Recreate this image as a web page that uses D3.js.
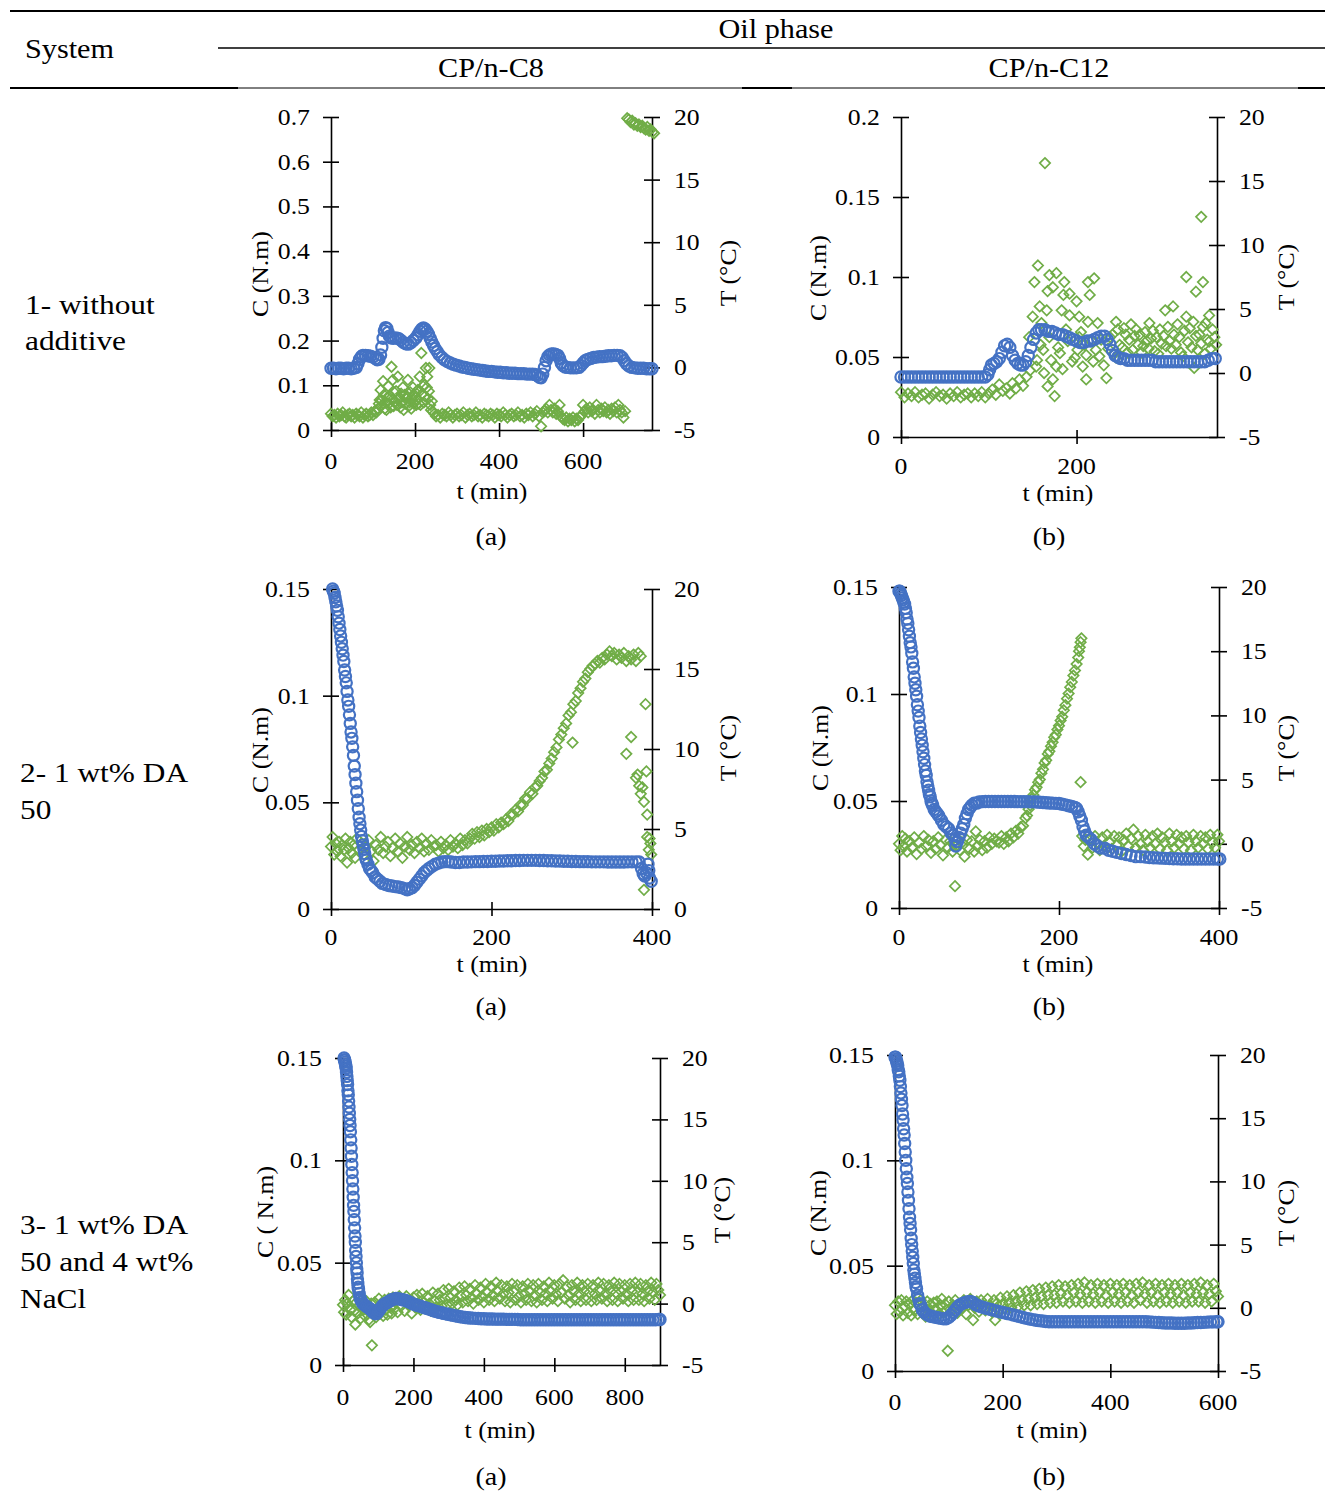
<!DOCTYPE html>
<html><head><meta charset="utf-8">
<script src="https://cdn.jsdelivr.net/npm/d3@7"></script>
<style>
body{margin:0;background:#fff}
svg{display:block}
text{font-family:"Liberation Serif","Times New Roman",serif;fill:#000}
</style>
</head><body>
<svg id="chart" width="1325" height="1493"></svg>
<script>
// ---------------- DATA ----------------
// Row 1 (a): CP/n-C8 without additive — torque C (N.m) and temperature T (°C) vs t (min)
const c1a = [[0,.138],[6,.138],[12,.137],[18,.138],[24,.138],[30,.137],[36,.138],[42,.138],[48,.137],[54,.138],[60,.140],[64,.148],[68,.158],[72,.164],[76,.167],[82,.167],[88,.166],[94,.165],[100,.163],[106,.160],[110,.157],[114,.158],[118,.168],[121,.185],[124,.205],[127,.222],[130,.229],[133,.227],[136,.218],[139,.210],[143,.206],[148,.205],[154,.206],[160,.205],[166,.201],[172,.196],[178,.193],[184,.192],[190,.195],[196,.200],[202,.206],[207,.213],[212,.221],[216,.226],[220,.228],[224,.226],[228,.221],[232,.214],[236,.205],[240,.197],[244,.189],[248,.182],[253,.175],[258,.168],[264,.162],[270,.157],[277,.153],[284,.150],[291,.147],[298,.145],[305,.143],[312,.141],[319,.140],[326,.138],[333,.137],[340,.136],[347,.135],[354,.134],[361,.133],[368,.132],[375,.131],[382,.131],[389,.130],[396,.129],[403,.129],[410,.128],[417,.128],[424,.127],[431,.127],[438,.127],[445,.126],[452,.126],[459,.126],[466,.125],[473,.125],[480,.125],[486,.124],[491,.122],[496,.118],[500,.117],[504,.125],[508,.140],[512,.155],[516,.164],[520,.168],[525,.170],[530,.170],[535,.169],[540,.167],[544,.160],[548,.150],[552,.144],[557,.141],[563,.140],[570,.139],[577,.139],[584,.139],[590,.140],[595,.144],[600,.150],[605,.155],[611,.158],[618,.160],[625,.162],[632,.163],[639,.164],[646,.164],[653,.165],[660,.166],[667,.166],[674,.167],[681,.167],[688,.166],[693,.162],[698,.155],[703,.148],[709,.143],[716,.140],[723,.139],[730,.138],[737,.138],[744,.138],[751,.137],[758,.137],[764,.137]];
const g1a = [[0,-3.7],[4,-3.9],[8,-3.8],[12,-4.0],[16,-3.7],[20,-3.9],[24,-3.8],[28,-3.6],[32,-3.9],[36,-4.0],[40,-3.8],[44,-3.7],[48,-3.9],[52,-3.8],[56,-4.0],[60,-3.7],[64,-3.8],[68,-3.9],[72,-3.6],[76,-4.0],[80,-3.8],[84,-3.7],[88,-3.9],[92,-3.8],[96,-3.6],[100,-3.8],[104,-3.5],[108,-3.6],[112,-3.3],
[114,-2.9],[116,-2.6],[118,-1.8],[120,-2.6],[122,-3.0],[124,-1.1],[126,-2.2],[128,-3.3],[130,-2.8],[132,-3.4],[134,-2.4],[136,-1.5],[138,-2.9],[140,-2.3],[142,-3.2],[144,0.05],[146,-2.6],[147,-1.0],[149,-3.1],[151,-2.0],[153,-2.7],[155,-1.9],[157,-3.0],[159,-0.74],[161,-2.5],[163,-2.4],[165,-3.2],[167,-2.1],[169,-2.8],[171,-1.6],[173,-3.4],[175,-2.2],[177,-2.9],[179,-2.5],[181,-2.3],[183,-1.0],[185,-3.1],[187,-2.8],[189,-2.0],[191,-3.3],[193,-2.4],[195,-1.6],[197,-2.9],[199,-2.2],[201,-2.0],[203,-3.0],[205,-2.6],[207,-1.8],[209,-2.9],[211,-0.74],[213,-3.0],[215,1.15],[217,-2.1],[219,-1.5],[221,-2.8],[222,-1.4],[224,-2.3],[226,-0.05],[228,-1.6],[229,-0.74],[231,-2.5],[233,-1.9],[234,-0.05],[236,-3.0],[238,-3.4],[240,-2.7],[242,-3.5],
[246,-3.7],[250,-3.9],[255,-3.8],[260,-4.0],[265,-3.7],[270,-3.8],[275,-3.9],[280,-3.6],[285,-3.8],[290,-4.0],[295,-3.8],[300,-3.7],[305,-3.9],[310,-3.8],[315,-3.6],[320,-4.0],[325,-3.8],[330,-3.7],[335,-3.9],[340,-3.8],[345,-3.6],[350,-3.9],[355,-3.8],[360,-4.0],[365,-3.7],[370,-3.8],[375,-3.9],[380,-3.7],[385,-3.8],[390,-4.0],[395,-3.7],[400,-3.8],[405,-3.9],[410,-3.6],[415,-3.8],[420,-4.0],[425,-3.8],[430,-3.7],[435,-3.9],[440,-3.8],[445,-3.6],[450,-3.9],[455,-3.8],[460,-4.0],[465,-3.7],[470,-3.8],[475,-3.6],[480,-3.9],[485,-3.7],[490,-3.5],[495,-3.9],[500,-4.7],[504,-3.6],[508,-3.5],[512,-3.3],[516,-3.6],[520,-3.0],[524,-3.4],[528,-3.6],[532,-3.3],[536,-3.7],[540,-3.5],[544,-3.0],[548,-3.9],[552,-4.1],[556,-4.2],[560,-4.0],[564,-4.3],[568,-4.1],[572,-4.2],[576,-4.0],[580,-4.3],[584,-4.1],[588,-4.2],[592,-4.0],[596,-3.8],[600,-3.0],[604,-3.5],[608,-3.3],[612,-3.6],[616,-3.2],[620,-3.5],[624,-3.4],[628,-3.7],[632,-3.0],[636,-3.4],[640,-3.6],[644,-3.3],[648,-3.5],[652,-3.2],[656,-3.6],[660,-3.4],[664,-3.7],[668,-3.3],[672,-3.5],[676,-3.2],[680,-3.6],[684,-3.0],[688,-3.4],[692,-3.6],[696,-4.0],[700,-3.5],
[705,19.9],[709,19.8],[713,19.6],[717,19.7],[721,19.4],[725,19.5],[729,19.3],[733,19.4],[737,19.2],[741,19.3],[745,19.1],[749,19.0],[753,19.2],[757,18.9],[761,19.0],[765,18.8],[769,18.7]];

// Row 1 (b): CP/n-C12 without additive
const c1b = [[0,.0375],[4,.0375],[8,.0375],[12,.0375],[16,.0375],[20,.0375],[24,.0375],[28,.0375],[32,.0375],[36,.0375],[40,.0375],[44,.0375],[48,.0375],[52,.0375],[56,.0375],[60,.0375],[64,.0375],[68,.0375],[72,.0375],[76,.0375],[80,.0375],[84,.0375],[88,.0375],[92,.0375],[96,.0375],[99,.039],[101,.042],[103,.045],[106,.046],[109,.047],[112,.049],[115,.053],[118,.057],[121,.058],[124,.056],[127,.051],[130,.048],[133,.046],[136,.045],[139,.045],[142,.047],[145,.051],[148,.056],[151,.061],[154,.065],[157,.067],[160,.067],[164,.067],[168,.066],[172,.066],[176,.065],[180,.064],[184,.064],[188,.063],[192,.062],[196,.061],[200,.060],[204,.059],[208,.059],[212,.060],[216,.060],[220,.061],[224,.062],[228,.063],[232,.063],[235,.061],[238,.058],[241,.054],[244,.051],[247,.050],[250,.049],[254,.049],[258,.048],[262,.048],[266,.048],[270,.048],[274,.048],[278,.048],[282,.048],[286,.048],[290,.047],[294,.047],[298,.047],[302,.047],[306,.047],[310,.047],[314,.047],[318,.047],[322,.047],[326,.047],[330,.047],[334,.047],[338,.047],[342,.047],[346,.047],[350,.048],[354,.049],[358,.049]];
const g1b = [[0,-1.5],[4,-1.9],[8,-1.6],[12,-1.8],[16,-1.5],[20,-1.9],[24,-1.7],[28,-1.6],[32,-2.0],[36,-1.7],[40,-1.5],[44,-1.8],[48,-1.7],[52,-2.0],[56,-1.6],[60,-1.8],[64,-1.5],[68,-1.9],[72,-1.7],[76,-1.6],[80,-1.9],[84,-1.6],[88,-1.8],[92,-1.5],[96,-1.9],[100,-1.6],[104,-1.3],[108,-1.7],[112,-0.9],[116,-1.4],[120,-1.2],[124,-1.6],[127,-0.8],[131,-1.2],[135,-0.5],[139,-1.0],[143,-0.3],[146,2.8],[147,0.2],
[150,4.4],[152,7.1],[154,0.5],[156,8.4],[158,5.2],[160,3.9],[162,1.8],[164,16.4],[166,4.9],[167,6.4],[167,-1.05],[169,7.65],[169,2.8],[173,6.7],[173,-0.5],[175,-1.8],[177,7.8],[177,0.5],[181,1.55],[183,4.9],[185,6.1],[186,7.1],[188,3.4],[192,6.2],[192,4.5],[198,1.2],[200,5.6],[203,4.4],[203,2.8],[207,0.5],[211,1.4],[211,-0.5],[213,7.1],[213,4.0],[215,6.1],[220,7.4],[224,3.9],[226,1.3],[234,-0.4],[238,2.8],[245,4.0],[245,1.2],[247,3.4],
[155,1.0],[159,2.2],[163,0.0],[171,1.0],[179,2.0],[184,0.3],[190,2.5],[195,0.9],[201,1.8],[205,3.2],[209,2.2],[217,2.5],[219,0.9],[222,1.8],[228,2.6],[231,0.6],[236,1.9],[241,3.0],[243,1.5],[249,2.2],
[252,2.0],[254,3.5],[256,3.0],[258,1.6],[260,2.6],[262,3.8],[264,1.8],[266,2.9],[268,3.4],[270,2.2],[272,3.0],[274,1.6],[276,2.1],[278,3.2],[280,2.5],[282,1.9],[283,3.9],[285,2.7],[287,3.3],[289,1.7],[291,2.8],[293,1.5],[295,3.4],[297,2.3],[299,2.9],[301,4.9],[302,2.1],[304,3.6],[306,2.5],[308,1.9],[310,5.2],[311,3.0],[313,2.2],[315,3.8],[317,2.8],[319,1.6],[321,1.3],[323,3.3],[325,4.4],[325,7.5],[327,2.4],[329,3.5],[331,2.0],[333,4.0],[334,0.4],[336,6.35],[336,2.9],[338,1.8],[340,3.0],[342,12.2],[342,2.3],[344,7.1],[344,3.6],[346,1.5],[347,3.9],[349,2.6],[351,4.5],[351,2.45],[353,1.9],[355,3.4],[357,2.8],[359,2.2]];

// Row 2 (a): CP/n-C8 with 1 wt% DA 50
const c2a = [[2,.150],[3,.149],[4,.148],[5,.146],[6,.144],[7,.142],[8,.140],[9,.137],[10,.134],[11,.131],[12,.128],[13,.125],[14,.122],[15,.119],[16,.116],[17,.112],[18,.109],[19,.106],[20,.102],[21,.098],[22,.095],[23,.091],[24,.087],[25,.083],[26,.080],[27,.076],[28,.072],[29,.067],[30,.063],[31,.059],[32,.055],[33,.051],[34,.047],[35,.043],[36,.040],[37,.037],[38,.034],[39,.032],[40,.030],[41,.028],[42,.026],[43,.024],[44,.023],[46,.021],[48,.019],[50,.018],[52,.017],[55,.015],[58,.014],[61,.013],[64,.012],[68,.0115],[72,.011],[76,.0108],[80,.0105],[84,.0103],[88,.010],[92,.0095],[95,.009],[98,.0095],[101,.010],[104,.011],[107,.0125],[110,.014],[113,.0155],[116,.017],[119,.018],[122,.019],[126,.020],[130,.021],[134,.0215],[138,.022],[142,.0222],[146,.0222],[150,.022],[155,.0218],[160,.0218],[165,.022],[170,.022],[175,.0221],[180,.0222],[185,.0222],[190,.0223],[195,.0223],[200,.0224],[205,.0224],[210,.0225],[215,.0225],[220,.0226],[225,.0226],[230,.0227],[235,.0227],[240,.0228],[245,.0228],[250,.0228],[255,.0228],[260,.0227],[265,.0227],[270,.0226],[275,.0226],[280,.0225],[285,.0225],[290,.0224],[295,.0224],[300,.0223],[305,.0223],[310,.0222],[315,.0222],[320,.0222],[325,.0221],[330,.0221],[335,.0221],[340,.0221],[345,.022],[350,.022],[355,.022],[360,.022],[365,.022],[370,.0221],[375,.0221],[380,.0221],[384,.022],[387,.019],[389,.0165],[391,.0155],[393,.017],[395,.021],[396,.018],[397,.0145],[399,.013]];
const g2a = [[0,3.9],[2,4.5],[4,3.4],[6,4.1],[8,3.6],[10,4.2],[12,3.3],[14,4.0],[16,3.7],[18,4.4],[20,2.9],[22,3.8],[24,4.2],[26,3.5],[28,4.0],[30,3.2],[32,4.4],[35,3.7],[38,4.1],[41,3.4],[44,3.9],[47,4.3],[50,3.6],[53,3.0],[56,4.0],[59,3.7],[62,4.5],[65,3.5],[68,3.9],[71,4.2],[74,3.3],[77,3.8],[80,4.4],[83,3.6],[86,4.1],[89,3.2],[92,3.9],[95,4.5],[98,3.7],[101,4.0],[104,3.5],[107,4.2],[110,3.8],[113,4.4],[116,3.6],[119,4.1],[122,3.7],[125,4.3],[128,3.9],[131,4.0],[134,3.6],[137,4.2],[140,3.8],[143,4.0],[146,3.7],[149,4.3],[152,3.9],[155,4.1],[158,3.8],[161,4.4],[164,4.0],[167,4.3],[170,4.1],
[173,4.4],[176,4.7],[179,4.4],[182,4.8],[185,4.5],[188,4.9],[191,4.6],[194,5.0],[197,4.8],[200,5.1],[203,4.9],[206,5.3],[209,5.1],[212,5.4],[215,5.3],[218,5.6],[221,5.5],[224,5.9],[227,5.9],[230,6.2],[233,6.1],[236,6.5],[239,6.5],[242,6.9],[245,6.9],[248,7.3],[251,7.2],[254,7.6],[257,7.7],[260,8.0],[263,8.2],[266,8.6],[269,8.7],[272,9.1],[275,9.4],[278,9.8],[281,10.1],[284,10.6],[287,10.9],[290,11.3],[293,11.6],[296,12.1],[299,12.3],[301,10.4],[302,12.8],[305,13.0],[308,13.5],[311,13.8],[314,14.2],[317,14.4],[320,14.8],[323,15.0],[326,15.2],[329,15.3],[332,15.5],[335,15.4],[338,15.7],[341,15.6],[344,15.9],[347,16.1],[350,15.8],[353,16.0],[356,15.6],[359,15.9],[362,15.7],[365,16.0],[368,15.5],[371,15.8],[374,15.6],[377,15.9],[380,15.5],[383,16.0],[386,15.8],
[368,9.7],[374,10.75],[380,8.2],[382,8.4],[384,7.7],[386,7.2],[388,7.6],[390,6.7],[390,1.2],[392,12.8],[393,8.6],[394,5.9],[394,4.5],[396,3.7],[397,4.4],[398,4.1],[399,3.4]];

// Row 2 (b): CP/n-C12 with 1 wt% DA 50
const c2b = [[0,.148],[1,.148],[2,.147],[3,.146],[4,.145],[5,.144],[6,.143],[7,.142],[8,.140],[9,.138],[10,.135],[11,.133],[12,.130],[13,.127],[14,.124],[15,.122],[16,.119],[17,.115],[18,.112],[19,.108],[20,.105],[21,.102],[22,.099],[23,.095],[24,.092],[25,.089],[26,.085],[27,.082],[28,.079],[29,.076],[30,.073],[31,.070],[32,.067],[33,.064],[34,.062],[35,.059],[36,.057],[37,.055],[38,.053],[39,.052],[40,.050],[41,.049],[42,.048],[44,.046],[46,.045],[48,.044],[50,.043],[53,.041],[56,.039],[59,.038],[62,.037],[65,.035],[68,.034],[70,.032],[71,.029],[73,.031],[75,.033],[77,.035],[79,.037],[81,.039],[83,.042],[85,.044],[87,.046],[89,.047],[91,.048],[94,.049],[97,.049],[100,.0495],[104,.0497],[108,.0498],[112,.0498],[116,.0498],[120,.0498],[124,.0498],[128,.0498],[132,.0498],[136,.0498],[140,.0498],[144,.0498],[148,.0497],[152,.0497],[156,.0497],[160,.0497],[164,.0496],[168,.0496],[172,.0495],[176,.0494],[180,.0493],[184,.0492],[188,.0491],[192,.049],[196,.0489],[200,.0488],[204,.0485],[208,.0482],[212,.0478],[216,.0474],[220,.047],[222,.0465],[224,.045],[226,.043],[228,.041],[230,.038],[232,.036],[234,.034],[237,.033],[240,.032],[244,.030],[248,.029],[252,.028],[257,.028],[262,.027],[267,.0265],[272,.026],[278,.0255],[284,.025],[290,.0245],[296,.024],[302,.024],[308,.0238],[313,.0236],[318,.0235],[323,.0234],[328,.0233],[333,.0232],[338,.0231],[343,.023],[348,.023],[353,.0229],[358,.0229],[363,.0229],[368,.0229],[373,.0229],[378,.0229],[383,.0229],[388,.0229],[393,.0229],[398,.0229],[401,.0229]];
const g2b = [[0,0.0],[2,-0.5],[4,0.6],[6,-0.2],[8,0.4],[10,-0.6],[13,0.2],[16,-0.3],[19,0.5],[22,-0.8],[25,0.1],[28,-0.4],[31,0.6],[34,-0.2],[37,0.3],[40,-0.7],[43,0.2],[46,-0.4],[49,0.5],[52,-0.1],[55,-0.9],[58,0.3],[61,-0.3],[64,0.2],[67,-0.6],[70,-3.3],[71,-0.2],[73,0.4],[76,-0.5],[79,0.1],[82,-1.0],[85,0.3],[88,-0.4],[91,0.2],[94,-0.6],[96,0.96],[98,-0.2],[101,0.3],[104,-0.5],[107,0.2],[110,-0.3],[113,0.5],[116,0.0],[119,0.4],[122,0.2],
[125,0.1],[128,0.6],[131,0.0],[134,0.5],[137,0.2],[140,0.8],[143,0.5],[146,1.0],[149,0.8],[152,1.3],[155,1.4],[158,2.0],[160,2.2],[162,2.7],[164,3.0],[166,3.5],[168,3.8],[170,4.2],[172,4.4],[174,4.8],[176,5.0],[178,5.5],[180,5.8],[182,6.3],[184,6.5],[186,7.0],[188,7.2],[190,7.6],[192,7.9],[194,8.3],[196,8.5],[198,8.9],[200,9.2],[202,9.6],[204,9.9],[206,10.4],[208,10.8],[210,11.3],[212,11.7],[214,12.2],[216,12.6],[218,13.1],[220,13.5],[222,14.0],[224,14.5],[225,15.0],[226,15.3],[227,15.7],[228,16.0],[227,4.8],
[229,0.6],[231,-0.2],[233,0.3],[236,-0.85],[239,0.4],[242,-0.3],[245,0.6],[248,0.0],[251,-0.5],[254,0.5],[257,-0.2],[260,0.7],[263,0.1],[266,-0.4],[269,0.6],[272,-0.1],[275,0.5],[278,-0.6],[281,0.3],[284,0.8],[287,-0.2],[290,0.4],[293,1.1],[296,-0.3],[299,0.6],[302,0.0],[305,-0.5],[308,0.7],[311,0.2],[314,-0.3],[317,0.6],[320,0.0],[323,0.8],[326,-0.4],[329,0.5],[332,0.1],[335,-0.5],[338,0.8],[341,0.2],[344,-0.3],[347,0.7],[350,0.0],[353,0.5],[356,-0.4],[359,0.6],[362,0.1],[365,-0.5],[368,0.7],[371,0.2],[374,-0.3],[377,0.6],[380,0.0],[383,0.5],[386,-0.4],[389,0.7],[392,0.1],[395,-0.3],[398,0.7],[400,0.2]];

// Row 3 (a): CP/n-C8 with 1 wt% DA 50 and 4 wt% NaCl
const c3a = [[3,.150],[4,.149],[5,.149],[6,.148],[7,.147],[8,.146],[9,.145],[10,.143],[11,.141],[12,.139],[13,.137],[14,.134],[15,.132],[16,.129],[17,.126],[18,.123],[19,.120],[20,.117],[21,.114],[22,.110],[23,.106],[24,.102],[25,.098],[26,.094],[27,.090],[28,.086],[29,.082],[30,.078],[31,.075],[32,.071],[33,.067],[34,.063],[35,.060],[36,.056],[37,.053],[38,.050],[39,.047],[40,.045],[41,.042],[42,.040],[43,.038],[44,.037],[46,.035],[48,.033],[50,.032],[53,.031],[56,.030],[60,.0295],[64,.029],[68,.0285],[72,.028],[76,.0275],[80,.027],[84,.026],[88,.0255],[92,.025],[96,.0252],[100,.026],[104,.027],[108,.028],[112,.029],[116,.0295],[120,.030],[125,.0305],[130,.031],[135,.0315],[140,.032],[145,.0322],[150,.0325],[155,.0325],[160,.0322],[166,.032],[172,.0318],[178,.0315],[184,.031],[190,.0307],[196,.030],[202,.0297],[208,.0293],[214,.029],[220,.0287],[226,.0283],[232,.028],[238,.0277],[244,.0273],[250,.027],[256,.0266],[262,.0262],[268,.026],[274,.0257],[280,.0255],[286,.0252],[292,.025],[298,.0248],[305,.0245],[312,.0243],[319,.024],[326,.0238],[333,.0236],[340,.0234],[347,.0232],[354,.0231],[361,.023],[368,.0229],[376,.0228],[384,.0227],[392,.0226],[400,.0226],[408,.0225],[416,.0225],[424,.0225],[432,.0224],[440,.0224],[448,.0224],[456,.0224],[464,.0223],[472,.0223],[480,.0223],[488,.0223],[496,.0222],[504,.0221],[512,.0221],[520,.0221],[528,.0221],[536,.0221],[544,.0221],[552,.0221],[560,.0221],[568,.0221],[576,.0221],[584,.0221],[592,.0221],[600,.0221],[608,.0221],[616,.0221],[624,.0221],[632,.0221],[640,.0221],[648,.0221],[656,.0221],[664,.0221],[672,.0221],[680,.0221],[688,.0221],[696,.0221],[704,.0221],[712,.0221],[720,.0221],[728,.0221],[736,.0221],[744,.0221],[752,.0221],[760,.0221],[768,.0221],[776,.0221],[784,.0221],[792,.0221],[800,.0221],[808,.0221],[816,.0221],[824,.0221],[832,.0221],[840,.0221],[848,.0221],[856,.0221],[864,.0221],[872,.0221],[880,.0221],[888,.0221],[896,.0222],[900,.0222]];
const g3a = [[0,-0.1],[3,-0.7],[6,0.3],[9,-0.9],[12,0.0],[16,0.7],[20,-0.5],[24,-1.1],[28,0.2],[32,-0.6],[35,-1.7],[38,0.1],[42,-0.8],[46,-0.2],[50,-1.2],[54,0.3],[58,-0.5],[62,-1.0],[66,0.2],[70,-0.6],[74,-1.3],[77,-1.5],[80,0.0],[82,-3.4],[86,-0.7],[90,0.1],[94,-1.1],[98,-0.3],[102,0.4],[106,-0.8],[110,-0.2],[114,-1.0],[118,0.3],[122,-0.5],[126,-0.9],[130,0.4],[134,-0.3],[138,-0.8],[142,0.5],[146,-0.4],[150,0.2],[155,-0.7],[160,0.6],[165,-0.2],[170,0.3],[175,-0.6],[180,0.6],[185,-0.1],[190,0.2],[195,-0.8],[200,0.5],[205,-0.3],[210,0.7],[215,0.0],[220,-0.5],[225,0.8],[230,0.1],[235,-0.4],[240,0.6],[245,0.0],[250,-0.6],[255,0.9],[260,0.2],[265,-0.3],[270,0.8],[275,0.3],[280,-0.2],[285,1.1],[290,0.4],[295,-0.1],[300,1.2],[305,0.5],[310,0.0],[315,1.0],[320,0.3],[325,-0.1],[330,1.3],[335,0.6],[340,0.1],[345,1.4],[350,0.7],[355,0.2],[360,1.2],[365,0.5],[370,0.0],[375,1.5],[380,0.8],[385,0.3],[390,1.3],[395,0.6],[400,0.1],[405,1.6],[410,0.9],[415,0.3],[420,1.4],[425,0.7],[430,0.2],[435,1.7],[440,1.0],[445,0.4],[450,1.5],[455,0.8],[460,0.2],[465,1.4],[470,0.9],[475,0.1],[480,1.6],[485,1.0],[490,0.3],[495,1.5],[500,0.6],[505,0.1],[510,1.4],[515,0.8],[520,0.3],[525,1.6],[530,1.0],[535,0.2],[540,1.5],[545,0.7],[550,0.1],[555,1.6],[560,0.9],[565,0.3],[570,1.4],[575,0.8],[580,0.2],[585,1.7],[590,1.0],[595,0.4],[600,1.5],[605,0.8],[610,0.2],[615,1.6],[620,0.9],[625,1.9],[630,0.4],[635,1.4],[640,0.7],[645,0.1],[650,1.5],[655,1.0],[660,0.3],[665,1.7],[670,0.8],[675,0.2],[680,1.5],[685,1.0],[690,0.3],[695,1.6],[700,0.9],[705,0.2],[710,1.5],[715,0.8],[720,0.3],[725,1.7],[730,1.0],[735,0.4],[740,1.6],[745,0.8],[750,0.2],[755,1.5],[760,1.0],[765,0.3],[770,1.7],[775,0.9],[780,0.2],[785,1.6],[790,1.0],[795,0.4],[800,1.5],[805,0.8],[810,0.2],[815,1.6],[820,1.0],[825,0.3],[830,1.7],[835,0.9],[840,0.3],[845,1.6],[850,0.8],[855,0.2],[860,1.5],[865,1.0],[870,0.4],[875,1.7],[880,0.9],[885,0.3],[890,1.6],[895,1.1],[900,0.7]];

// Row 3 (b): CP/n-C12 with 1 wt% DA 50 and 4 wt% NaCl
const c3b = [[0,.149],[1,.149],[2,.148],[3,.147],[4,.146],[5,.145],[6,.143],[7,.142],[8,.140],[9,.138],[10,.135],[11,.132],[12,.129],[13,.126],[14,.122],[15,.119],[16,.115],[17,.112],[18,.108],[19,.104],[20,.100],[21,.096],[22,.092],[23,.089],[24,.085],[25,.081],[26,.077],[27,.073],[28,.070],[29,.067],[30,.063],[31,.060],[32,.057],[33,.054],[34,.051],[35,.048],[36,.046],[37,.044],[38,.042],[39,.040],[40,.039],[42,.036],[44,.034],[46,.032],[48,.031],[51,.029],[54,.028],[58,.027],[62,.0265],[66,.026],[70,.0258],[75,.0255],[80,.0253],[85,.025],[90,.0248],[95,.0248],[100,.0255],[104,.0265],[108,.0278],[112,.029],[116,.0303],[120,.0313],[125,.032],[130,.0325],[135,.0329],[140,.033],[145,.0325],[150,.0315],[155,.031],[160,.0305],[166,.030],[172,.0296],[178,.0292],[184,.0288],[190,.0284],[196,.028],[202,.0277],[208,.0273],[214,.027],[220,.0266],[226,.0262],[232,.0258],[238,.0254],[244,.025],[250,.0247],[256,.0244],[262,.0241],[268,.0239],[274,.0237],[280,.0235],[286,.0234],[292,.0234],[298,.0234],[304,.0234],[310,.0234],[316,.0234],[322,.0234],[328,.0234],[334,.0234],[340,.0234],[346,.0234],[352,.0234],[358,.0234],[364,.0234],[370,.0234],[376,.0234],[382,.0234],[388,.0234],[394,.0234],[400,.0234],[406,.0234],[412,.0234],[418,.0234],[424,.0234],[430,.0234],[436,.0234],[442,.0234],[448,.0234],[454,.0234],[460,.0234],[466,.0234],[472,.0233],[478,.0232],[484,.0231],[490,.023],[496,.0229],[502,.0228],[508,.0228],[514,.0228],[520,.0227],[526,.0227],[532,.0227],[538,.0227],[544,.0228],[550,.0228],[556,.0229],[562,.023],[568,.023],[574,.0231],[580,.0232],[586,.0233],[592,.0233],[598,.0234],[600,.0234]];
const g3b = [[0,0.2],[3,-0.5],[6,0.5],[9,-0.3],[12,0.6],[15,-0.6],[18,0.1],[21,0.5],[24,-0.4],[27,0.3],[30,-0.6],[33,0.6],[36,-0.2],[39,0.4],[42,-0.5],[45,0.2],[48,0.6],[51,-0.4],[54,0.1],[57,-0.7],[60,0.5],[63,-0.2],[66,0.3],[69,-0.6],[72,0.4],[75,-0.1],[78,0.5],[81,-0.5],[84,0.2],[87,0.7],[90,-0.4],[93,0.3],[96,-0.2],[98,-3.4],[100,0.5],[104,-0.3],[108,0.2],[112,0.6],[116,-0.4],[120,0.3],[124,-0.1],[128,0.6],[132,-0.5],[136,0.2],[140,0.7],[145,-0.97],[148,0.0],[152,0.5],[156,-0.3],[160,0.6],[164,0.1],[168,-0.2],[172,0.7],[176,0.2],[180,-0.3],[184,0.6],[186,-0.97],[188,0.3],[192,-0.2],[196,0.8],[200,0.3],[204,-0.1],[208,0.9],[212,0.4],[216,0.0],[220,1.0],[224,0.5],[228,0.1],[232,1.2],[236,0.6],[240,0.2],[244,1.3],[248,0.7],[252,0.2],[256,1.4],[260,0.8],[264,0.3],[268,1.5],[272,0.9],[276,0.3],[280,1.6],[284,1.0],[288,0.4],[292,1.7],[296,1.0],[300,0.4],[304,1.8],[308,1.1],[312,0.5],[316,1.7],[320,1.0],[324,0.4],[328,1.8],[332,1.2],[336,0.5],[340,1.9],[344,1.1],[348,0.4],[352,2.0],[356,1.2],[360,0.5],[364,1.8],[368,1.1],[372,0.4],[376,1.9],[380,1.2],[384,0.5],[388,1.8],[392,1.0],[396,0.4],[400,1.9],[404,1.2],[408,0.5],[412,1.8],[416,1.1],[420,0.4],[424,1.9],[428,1.2],[432,0.5],[436,1.8],[440,1.0],[444,0.4],[448,1.9],[452,1.2],[456,0.6],[460,2.0],[464,1.1],[468,0.4],[472,1.8],[476,1.2],[480,0.5],[484,1.9],[488,1.0],[492,0.4],[496,1.8],[500,1.2],[504,0.5],[508,1.9],[512,1.1],[516,0.4],[520,1.8],[524,1.2],[528,0.5],[532,1.9],[536,1.0],[540,0.4],[544,1.8],[548,1.2],[552,0.5],[556,1.9],[560,1.1],[564,0.5],[568,2.0],[572,1.2],[576,0.4],[580,1.8],[584,1.1],[588,0.5],[592,1.9],[596,1.3],[600,0.9]];

// Tick values
const tTicks1a = [0,200,400,600];
const tTicks1b = [0,200];
const tTicks2 = [0,200,400];
const tTicks3a = [0,200,400,600,800];
const tTicks3b = [0,200,400,600];
const cTicks1a = [0,0.1,0.2,0.3,0.4,0.5,0.6,0.7];
const cTicks1b = [0,0.05,0.1,0.15,0.2];
const cTicks015 = [0,0.05,0.1,0.15];
const TTicksA = [-5,0,5,10,15,20];
const TTicks2a = [0,5,10,15,20];

// Text
const header = {system:"System", oil:"Oil phase", c8:"CP/n-C8", c12:"CP/n-C12"};
const rowLabels = [["1- without","additive"],["2- 1 wt% DA","50"],["3- 1 wt% DA","50 and 4 wt%","NaCl"]];

// ---------------- DRAWING ----------------
const BLUE = "#4472C4", GREEN = "#70AD47";
const SX = 1.12; // horizontal stretch of the serif glyphs seen in the reference
const svg = d3.select("#chart");

function rule(x1,x2,y,w){svg.append("line").attr("x1",x1).attr("x2",x2).attr("y1",y).attr("y2",y).attr("stroke","#000").attr("stroke-width",w);}
rule(10,1325,11,2);
rule(218,1325,48,1.3);
rule(10,238,88,2); rule(238,742,88,1); rule(742,792,88,2); rule(792,1298,88,1); rule(1298,1325,88,2);

// text helper: positioned by transform, stretched horizontally
function txt(parent,s,x,y,size,anchor,rot){
  return parent.append("text")
    .attr("transform",`translate(${x},${y})${rot?` rotate(${rot})`:""} scale(${SX},1)`)
    .attr("font-size",size).attr("text-anchor",anchor||"start").text(s);
}
txt(svg,header.system,25,58,27,"start");
txt(svg,header.oil,776,38,27,"middle");
txt(svg,header.c8,491,77,27,"middle");
txt(svg,header.c12,1049,77,27,"middle");

const rowLabelY = [[314,350],[782,819],[1234,1271,1308]];
const rowLabelX = [25,20,20];
rowLabels.forEach((lines,i)=>lines.forEach((s,j)=>txt(svg,s,rowLabelX[i],rowLabelY[i][j],28,"start")));

const panels = [
  {L:331,R:652,T:117,B:430,xMax:764,xt:tTicks1a,yL:[0,0.7],ylt:cTicks1a,yR:[-5,20],yrt:TTicksA,c:c1a,g:g1a,cl:"C (N.m)",clx:260,cly:274,tlx:728,tly:273,xtb:469,xlx:492,xly:499,cap:"(a)",capx:491,capy:545},
  {L:901,R:1217,T:117,B:437,xMax:360,xt:tTicks1b,yL:[0,0.2],ylt:cTicks1b,yR:[-5,20],yrt:TTicksA,c:c1b,g:g1b,cl:"C (N.m)",clx:818,cly:278,tlx:1286,tly:277,xtb:474,xlx:1058,xly:501,cap:"(b)",capx:1049,capy:545},
  {L:331,R:652,T:589,B:909,xMax:400,xt:tTicks2,yL:[0,0.15],ylt:cTicks015,yR:[0,20],yrt:TTicks2a,c:c2a,g:g2a,cl:"C (N.m)",clx:260,cly:750,tlx:728,tly:748,xtb:945,xlx:492,xly:972,cap:"(a)",capx:491,capy:1015},
  {L:899,R:1219,T:587,B:908,xMax:400,xt:tTicks2,yL:[0,0.15],ylt:cTicks015,yR:[-5,20],yrt:TTicksA,c:c2b,g:g2b,cl:"C (N.m)",clx:820,cly:748,tlx:1286,tly:748,xtb:945,xlx:1058,xly:972,cap:"(b)",capx:1049,capy:1015},
  {L:343,R:660,T:1058,B:1365,xMax:900,xt:tTicks3a,yL:[0,0.15],ylt:cTicks015,yR:[-5,20],yrt:TTicksA,c:c3a,g:g3a,cl:"C ( N.m)",clx:265,cly:1212,tlx:722,tly:1210,xtb:1405,xlx:500,xly:1438,cap:"(a)",capx:491,capy:1485},
  {L:895,R:1218,T:1055,B:1371,xMax:600,xt:tTicks3b,yL:[0,0.15],ylt:cTicks015,yR:[-5,20],yrt:TTicksA,c:c3b,g:g3b,cl:"C (N.m)",clx:818,cly:1213,tlx:1286,tly:1213,xtb:1410,xlx:1052,xly:1438,cap:"(b)",capx:1049,capy:1485}
];

const S = 5.2; // diamond half-diagonal
const diamond = `M0,${-S}L${S},0L0,${S}L${-S},0Z`;

function drawPanel(p){
  const x = d3.scaleLinear().domain([0,p.xMax]).range([p.L,p.R]);
  const yl = d3.scaleLinear().domain(p.yL).range([p.B,p.T]);
  const yr = d3.scaleLinear().domain(p.yR).range([p.B,p.T]);
  const g = svg.append("g");

  // axes with crossing tick marks
  const ax = g.append("g").attr("transform",`translate(0,${p.B})`)
    .call(d3.axisBottom(x).tickValues(p.xt).tickSizeOuter(0).tickFormat(""));
  ax.selectAll(".tick line").attr("y1",-7).attr("y2",7);
  const al = g.append("g").attr("transform",`translate(${p.L},0)`)
    .call(d3.axisLeft(yl).tickValues(p.ylt).tickSizeOuter(0).tickFormat(""));
  al.selectAll(".tick line").attr("x1",-8).attr("x2",8);
  const ar = g.append("g").attr("transform",`translate(${p.R},0)`)
    .call(d3.axisRight(yr).tickValues(p.yrt).tickSizeOuter(0).tickFormat(""));
  ar.selectAll(".tick line").attr("x1",-8).attr("x2",8);
  g.selectAll(".domain, .tick line").attr("stroke","#000").attr("stroke-width",1.6);

  // tick labels
  const lab = g.append("g");
  p.xt.forEach(d=>txt(lab,String(d),x(d),p.xtb,23,"middle"));
  p.ylt.forEach(d=>txt(lab,String(d),p.L-21,yl(d)+8,23,"end"));
  p.yrt.forEach(d=>txt(lab,String(d),p.R+22,yr(d)+8,23,"start"));

  // axis titles and caption
  txt(g,p.cl,p.clx+8,p.cly,23,"middle",-90);
  txt(g,"T (°C)",p.tlx+8,p.tly,23,"middle",-90);
  txt(g,"t (min)",p.xlx,p.xly,23,"middle");
  txt(g,p.cap,p.capx,p.capy,25,"middle");

  // temperature: open green diamonds (secondary axis)
  g.append("g").selectAll("path").data(p.g).join("path")
    .attr("d",diamond).attr("transform",d=>`translate(${x(d[0])},${yr(d[1])})`)
    .attr("fill","none").attr("stroke",GREEN).attr("stroke-width",1.7);
  // torque: open blue circles (primary axis)
  g.append("g").selectAll("circle").data(p.c).join("circle")
    .attr("cx",d=>x(d[0])).attr("cy",d=>yl(d[1])).attr("r",5.6)
    .attr("fill","none").attr("stroke",BLUE).attr("stroke-width",2.2);
}
panels.forEach(drawPanel);
</script>
</body></html>
